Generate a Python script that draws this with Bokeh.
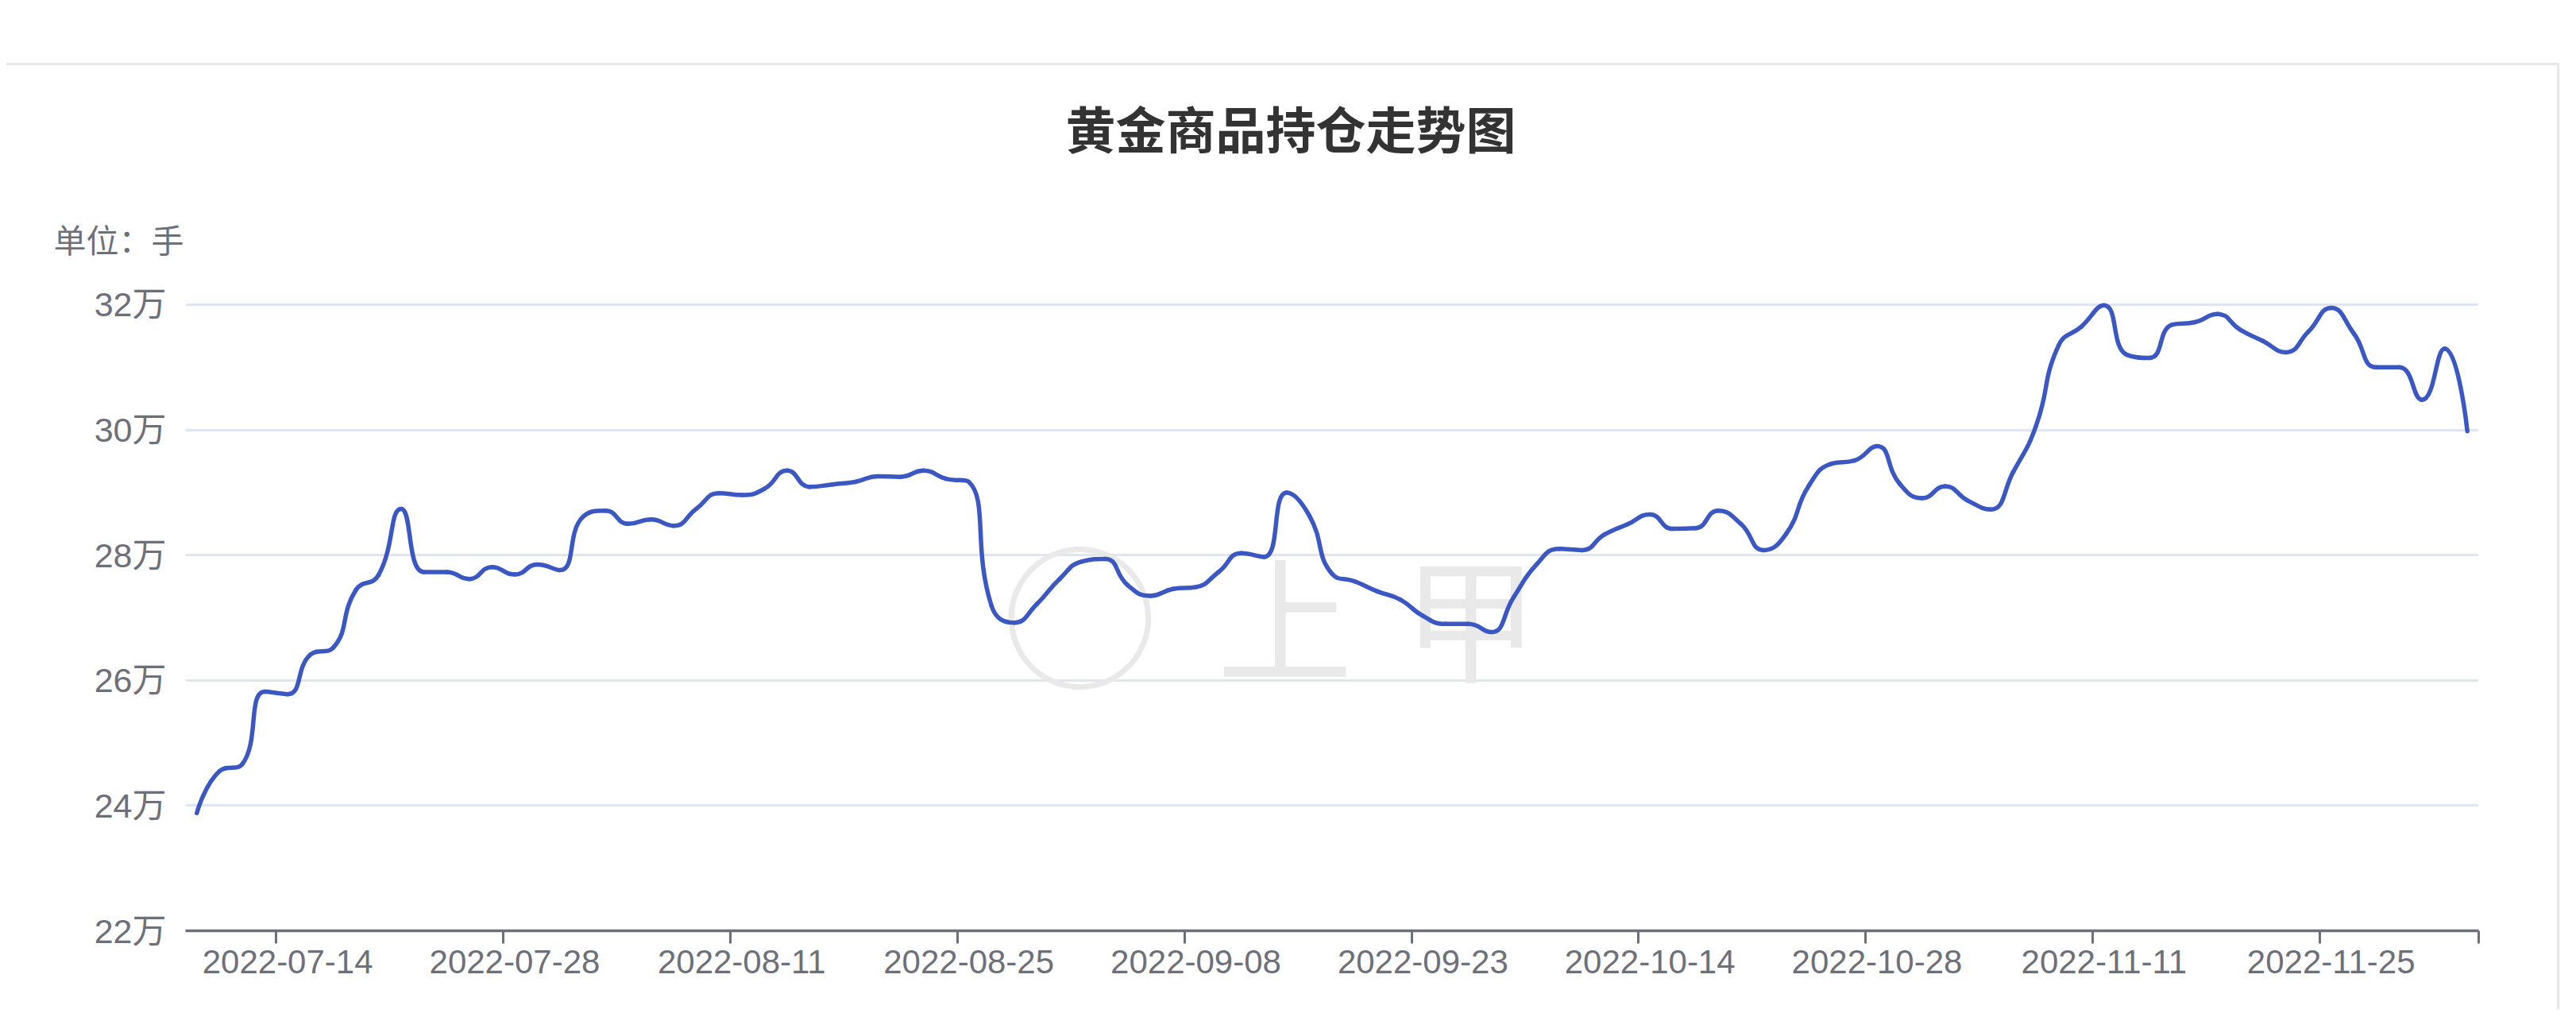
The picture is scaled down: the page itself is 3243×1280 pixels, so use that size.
import numpy as np
from bokeh.plotting import figure
from bokeh.layouts import column, row
from bokeh.models import FixedTicker, Label, Range1d, ColumnDataSource, Title, Spacer
from bokeh.embed import file_html
from bokeh.resources import INLINE

# ---------------- data ----------------
dates = [
    "2022-07-08", "2022-07-11", "2022-07-12", "2022-07-13", "2022-07-14", "2022-07-15",
    "2022-07-18", "2022-07-19", "2022-07-20", "2022-07-21", "2022-07-22",
    "2022-07-25", "2022-07-26", "2022-07-27", "2022-07-28", "2022-07-29",
    "2022-08-01", "2022-08-02", "2022-08-03", "2022-08-04", "2022-08-05",
    "2022-08-08", "2022-08-09", "2022-08-10", "2022-08-11", "2022-08-12",
    "2022-08-15", "2022-08-16", "2022-08-17", "2022-08-18", "2022-08-19",
    "2022-08-22", "2022-08-23", "2022-08-24", "2022-08-25", "2022-08-26",
    "2022-08-29", "2022-08-30", "2022-08-31", "2022-09-01", "2022-09-02",
    "2022-09-05", "2022-09-06", "2022-09-07", "2022-09-08", "2022-09-09",
    "2022-09-13", "2022-09-14", "2022-09-15", "2022-09-16",
    "2022-09-19", "2022-09-20", "2022-09-21", "2022-09-22", "2022-09-23",
    "2022-09-26", "2022-09-27", "2022-09-28", "2022-09-29", "2022-09-30",
    "2022-10-10", "2022-10-11", "2022-10-12", "2022-10-13", "2022-10-14",
    "2022-10-17", "2022-10-18", "2022-10-19", "2022-10-20", "2022-10-21",
    "2022-10-24", "2022-10-25", "2022-10-26", "2022-10-27", "2022-10-28",
    "2022-10-31", "2022-11-01", "2022-11-02", "2022-11-03", "2022-11-04",
    "2022-11-07", "2022-11-08", "2022-11-09", "2022-11-10", "2022-11-11",
    "2022-11-14", "2022-11-15", "2022-11-16", "2022-11-17", "2022-11-18",
    "2022-11-21", "2022-11-22", "2022-11-23", "2022-11-24", "2022-11-25",
    "2022-11-28", "2022-11-29", "2022-11-30", "2022-12-01", "2022-12-02",
    "2022-12-05",
]

# open interest, 手
holdings = [
    238800, 245500, 246600, 258200, 257800, 264100, 265200, 274400, 276800, 287400,
    277300, 277300, 276200, 278100, 276900, 278500, 277600, 286100, 287100, 285000,
    285700, 284700, 287400, 289900, 289600, 290600, 293500, 290900, 291300, 291700,
    292600, 292500, 293500, 292200, 291700, 271900, 269200, 272200, 276200, 279000,
    279400, 275200, 273500, 274600, 274900, 277300, 280300, 279700, 290000, 286300,
    277000, 275800, 274200, 272900, 270300, 269000, 269000, 267700, 273300, 278500,
    281000, 280800, 283300, 284900, 286500, 284200, 284300, 287100, 285000, 280800,
    283400, 291100, 294600, 295100, 297400, 291400, 289100, 291000, 288700, 287300,
    293300, 300600, 313500, 316500, 319900, 312000, 311500, 316800, 317200, 318500,
    316000, 314200, 312400, 315700, 319500, 315400, 310000, 310000, 304800, 313000,
    299800,
]

label_every = 10
label_start = 4
y_ticks = [220000, 240000, 260000, 280000, 300000, 320000]
y_tick_labels = ["22万", "24万", "26万", "28万", "30万", "32万"]

title_text = "黄金商品持仓走势图"
unit_text = "单位：手"

# ---------------- layout constants ----------------
W, H = 3214, 1191
FW = 2887
PX_PER_UNIT = 788 / 100000
ymin = y_ticks[0]
ymax = y_ticks[-1] + 760          # small headroom so the top grid line is drawn
FH = int(round((ymax - ymin) * PX_PER_UNIT))
BL = 225
BR = W - BL - FW
BB = 102
BT = H - FH - BB

n = len(dates)

p = figure(width=W, height=H, output_backend="svg", toolbar_location=None,
           x_range=Range1d(0, n), y_range=Range1d(ymin, ymax),
           min_border_left=BL, min_border_right=BR, min_border_top=BT, min_border_bottom=BB,
           background_fill_color="white", border_fill_color="white")
p.outline_line_color = None
p.xgrid.grid_line_color = None
p.ygrid.grid_line_color = "#E0E6F1"
p.ygrid.grid_line_width = 3
p.ygrid.ticker = FixedTicker(ticks=y_ticks)
p.styles = {"border-top": "3px solid #e7e7e9", "border-right": "3px solid #e7e7e9"}

LABEL_FONT = "Liberation Sans, Noto Sans CJK SC, sans-serif"
AXIS_GREY = "#6E7079"

# x axis: labels at band centres, ticks at band boundaries
label_idx = list(range(label_start, n, label_every))
major = [i + 0.5 for i in label_idx]
minor = [float(i) for i in label_idx] + [float(n)]
xa = p.xaxis[0]
xa.ticker = FixedTicker(ticks=major, minor_ticks=minor)
xa.major_label_overrides = {i + 0.5: dates[i] for i in label_idx}
xa.major_tick_out = 0
xa.major_tick_in = 0
xa.minor_tick_out = 16
xa.minor_tick_in = 0
xa.minor_tick_line_color = AXIS_GREY
xa.minor_tick_line_width = 3
xa.axis_line_color = AXIS_GREY
xa.axis_line_width = 3.5
xa.major_label_text_font = LABEL_FONT
xa.major_label_text_font_size = "42px"
xa.major_label_text_color = AXIS_GREY
xa.major_label_standoff = 8

ya = p.yaxis[0]
ya.ticker = FixedTicker(ticks=y_ticks)
ya.major_label_overrides = {t: s for t, s in zip(y_ticks, y_tick_labels)}
ya.axis_line_color = None
ya.major_tick_line_color = None
ya.minor_tick_line_color = None
ya.major_label_text_font = LABEL_FONT
ya.major_label_text_font_size = "43px"
ya.major_label_text_color = AXIS_GREY
ya.major_label_standoff = 18

# ---------------- watermark ----------------
for ch, fx, fy, fs, st in (("◯", 1126, 404, "190px", "bold"), ("上", 1384, 400, "170px", "normal"),
                           ("甲", 1618, 400, "170px", "normal")):
    p.add_layout(Label(x=fx, y=fy, x_units="screen", y_units="screen", text=ch,
                       text_font="Noto Sans CJK SC", text_font_size=fs, text_font_style=st,
                       text_color="#e9e9e9", text_align="center", text_baseline="middle",
                       level="underlay"))

# ---------------- smoothed line (echarts-like bezier) ----------------
sx = FW / n
sy = PX_PER_UNIT
px = (np.arange(n) + 0.5) * sx
py = (np.array(holdings, dtype=float) - ymin) * sy
smooth = 0.5

x0s, y0s, x1s, y1s, c0x, c0y, c1x, c1y = [], [], [], [], [], [], [], []
cpx0, cpy0 = px[0], py[0]
for k in range(1, n):
    x, y = px[k], py[k]
    prevX, prevY = px[k - 1], py[k - 1]
    if k == n - 1:
        cpx1, cpy1 = x, y
        ncx, ncy = x, y
    else:
        nextX, nextY = px[k + 1], py[k + 1]
        vx, vy = nextX - prevX, nextY - prevY
        lp = np.hypot(x - prevX, y - prevY)
        ln = np.hypot(nextX - x, nextY - y)
        r = ln / (ln + lp)
        ncx = x + vx * smooth * r
        ncy = y + vy * smooth * r
        ncx = min(ncx, max(nextX, x)); ncy = min(ncy, max(nextY, y))
        ncx = max(ncx, min(nextX, x)); ncy = max(ncy, min(nextY, y))
        vx, vy = ncx - x, ncy - y
        cpx1 = x - vx * lp / ln
        cpy1 = y - vy * lp / ln
        cpx1 = min(cpx1, max(prevX, x)); cpy1 = min(cpy1, max(prevY, y))
        cpx1 = max(cpx1, min(prevX, x)); cpy1 = max(cpy1, min(prevY, y))
        vx, vy = x - cpx1, y - cpy1
        ncx = x + vx * ln / lp
        ncy = y + vy * ln / lp
    x0s.append(prevX); y0s.append(prevY); x1s.append(x); y1s.append(y)
    c0x.append(cpx0); c0y.append(cpy0); c1x.append(cpx1); c1y.append(cpy1)
    cpx0, cpy0 = ncx, ncy

tx = lambda a: list(np.array(a) / sx)
ty = lambda a: list(np.array(a) / sy + ymin)
src = ColumnDataSource(dict(x0=tx(x0s), y0=ty(y0s), x1=tx(x1s), y1=ty(y1s),
                            cx0=tx(c0x), cy0=ty(c0y), cx1=tx(c1x), cy1=ty(c1y)))
p.bezier(x0="x0", y0="y0", x1="x1", y1="y1", cx0="cx0", cy0="cy0", cx1="cx1", cy1="cy1",
         source=src, line_color="#3a57c4", line_width=5.5, line_cap="round", line_join="round")

# ---------------- texts (titles above the frame) ----------------
p.add_layout(Title(text=unit_text, align="left", offset=-166, standoff=96,
                   text_font="Noto Sans CJK SC", text_font_size="41px",
                   text_font_style="normal", text_color=AXIS_GREY), "above")
p.add_layout(Title(text=title_text, align="left", offset=1108, standoff=30,
                   text_font="Noto Sans CJK SC", text_font_size="63px",
                   text_font_style="bold", text_color="#333333"), "above")

layout = column(Spacer(height=79, width=W), row(Spacer(width=8, height=H), p))
open("out.html", "w").write(file_html(layout, INLINE))
